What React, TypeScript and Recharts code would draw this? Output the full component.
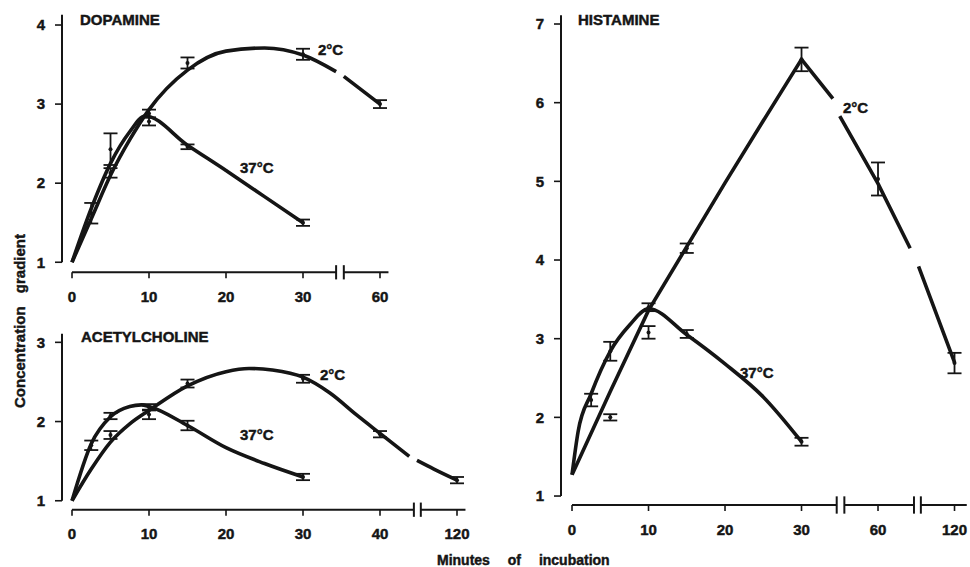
import React from 'react';
import { ComposedChart, Line, Scatter, ErrorBar, XAxis, YAxis, ReferenceLine } from 'recharts';

const INK = '#151515';
const FONT = '"Liberation Sans", Arial, Helvetica, sans-serif';

// x values are axis positions: left of the break they are minutes,
// after a break 40 / 50 stand for the compressed 60 / 120 min ticks.

// ---- Dopamine
const dopXTicks = [0, 10, 20, 30, 40];
const dopXLabels = ['0', '10', '20', '30', '60'];
const dopYTicks = [1, 2, 3, 4];

const dopColdX = [2.5, 5, 10, 15, 30, 40];
const dopColdY = [1.62, 2.13, 2.88, 3.52, 3.63, 3.0];
const dopColdErr = [0.13, 0.06, 0.05, 0.07, 0.07, 0.05];
const dopWarmX = [5, 10, 15, 30];
const dopWarmY = [2.43, 2.78, 2.46, 1.5];
const dopWarmErr = [0.2, 0.05, 0.03, 0.04];

const dopColdCurveX = [0, 2.5, 5, 7.5, 10, 15, 20, 25, 30, 34.3, 34.8, 35.3, 40];
const dopColdCurveY = [1, 1.55, 2.1, 2.55, 2.93, 3.43, 3.67, 3.71, 3.62, 3.41, null, 3.35, 3.0];
const dopWarmCurveX = [0, 2.5, 5, 7.5, 9.5, 15, 20, 25, 30];
const dopWarmCurveY = [1, 1.68, 2.25, 2.65, 2.85, 2.48, 2.16, 1.83, 1.5];

// ---- Acetylcholine
const achXTicks = [0, 10, 20, 30, 40, 50];
const achXLabels = ['0', '10', '20', '30', '40', '120'];
const achYTicks = [1, 2, 3];

const achColdX = [5, 10, 15, 30, 40, 50];
const achColdY = [1.83, 2.09, 2.48, 2.54, 1.84, 1.26];
const achColdErr = [0.05, 0.06, 0.05, 0.05, 0.04, 0.04];
const achWarmX = [2.5, 5, 10, 15, 30];
const achWarmY = [1.7, 2.07, 2.18, 1.95, 1.3];
const achWarmErr = [0.06, 0.04, 0.04, 0.06, 0.04];

const achColdCurveX = [0, 2.5, 5, 7.5, 10, 15, 20, 23, 26, 30, 33.5, 37, 40, 43.8, 44.3, 44.8, 47, 50];
const achColdCurveY = [1, 1.4, 1.74, 1.97, 2.14, 2.45, 2.63, 2.67, 2.65, 2.56, 2.36, 2.08, 1.85, 1.56, null, 1.51, 1.4, 1.26];
const achWarmCurveX = [0, 2.5, 5, 7.5, 9, 10, 15, 20, 25, 30];
const achWarmCurveY = [1, 1.72, 2.06, 2.19, 2.21, 2.19, 1.95, 1.67, 1.47, 1.3];

// ---- Histamine
const hisXTicks = [0, 10, 20, 30, 40, 50];
const hisXLabels = ['0', '10', '20', '30', '60', '120'];
const hisYTicks = [1, 2, 3, 4, 5, 6, 7];

const hisColdX = [5, 10, 15, 30, 40, 50];
const hisColdY = [2.0, 3.08, 4.15, 6.55, 5.03, 2.69];
const hisColdErr = [0.04, 0.08, 0.06, 0.15, 0.21, 0.13];
const hisWarmX = [2.5, 5, 10, 15, 30];
const hisWarmY = [2.22, 2.84, 3.4, 3.06, 1.69];
const hisWarmErr = [0.08, 0.12, 0.05, 0.05, 0.05];

const hisColdCurveX = [0, 5, 10, 15, 20, 25, 30, 34.1, 34.5, 35, 40, 44.2, 44.7, 45.3, 50];
const hisColdCurveY = [1.27, 2.33, 3.36, 4.17, 4.98, 5.77, 6.55, 6.05, null, 5.83, 4.97, 4.15, null, 3.92, 2.7];
const hisWarmCurveX = [0, 0.8, 2.5, 5, 7.5, 10, 15, 20, 25, 30];
const hisWarmCurveY = [1.27, 1.82, 2.3, 2.84, 3.17, 3.38, 3.05, 2.68, 2.26, 1.69];

type Pt = { x: number; y: number | null; err?: number };

const zip = (xs: number[], ys: (number | null)[], errs?: number[]): Pt[] =>
  xs.map((x, i) => ({ x, y: ys[i], err: errs ? errs[i] : undefined }));

// heavy, slightly stroked type to match the scanned Helvetica bold
const tickStyle = { fill: INK, stroke: INK, strokeWidth: 0.45, fontSize: 15, fontWeight: 700, fontFamily: FONT };

const Dot = (p: any) => <circle cx={p.cx} cy={p.cy} r={2} fill={INK} />;

type PanelProps = {
  left: number;
  top: number;
  width: number;
  height: number;
  margin: { top: number; right: number; bottom: number; left: number };
  yAxisWidth: number;
  xDomain: [number, number];
  yDomain: [number, number];
  xTicks: number[];
  xLabels: string[];
  yTicks: number[];
  yAxisTop: number;
  axisRuns: [number, number][];
  breakMarks: number[];
  markHalf: number;
  curves: { data: Pt[]; type: 'monotone' | 'linear' }[];
  points: Pt[][];
};

function Panel(p: PanelProps) {
  const base = p.yDomain[0];
  return (
    <div style={{ position: 'absolute', left: p.left, top: p.top }}>
      <ComposedChart width={p.width} height={p.height} margin={p.margin}>
        <XAxis
          type="number"
          dataKey="x"
          domain={p.xDomain}
          ticks={p.xTicks}
          interval={0}
          allowDataOverflow
          tickFormatter={(v: number) => p.xLabels[p.xTicks.indexOf(v)] ?? ''}
          axisLine={false}
          tickSize={6}
          tickMargin={13}
          height={40}
          tickLine={{ stroke: INK, strokeWidth: 1.6 }}
          tick={tickStyle}
        />
        <YAxis
          type="number"
          dataKey="y"
          domain={p.yDomain}
          ticks={p.yTicks}
          interval={0}
          allowDataOverflow
          axisLine={false}
          tickSize={7}
          tickMargin={10}
          width={p.yAxisWidth}
          tickLine={{ stroke: INK, strokeWidth: 1.6 }}
          tick={tickStyle}
        />
        <ReferenceLine
          segment={[{ x: p.xDomain[0], y: 1 }, { x: p.xDomain[0], y: p.yAxisTop }]}
          stroke={INK}
          strokeWidth={2}
          ifOverflow="visible"
        />
        {p.axisRuns.map(([a, b], i) => (
          <ReferenceLine
            key={'run' + i}
            segment={[{ x: a, y: base }, { x: b, y: base }]}
            stroke={INK}
            strokeWidth={2}
            ifOverflow="visible"
          />
        ))}
        {p.breakMarks.map((b, i) => (
          <ReferenceLine
            key={'brk' + i}
            segment={[{ x: b, y: base - p.markHalf }, { x: b, y: base + p.markHalf }]}
            stroke={INK}
            strokeWidth={2}
            ifOverflow="visible"
          />
        ))}
        {p.curves.map((c, i) => (
          <Line
            key={'c' + i}
            data={c.data}
            dataKey="y"
            type={c.type}
            stroke={INK}
            strokeWidth={3.6}
            dot={false}
            activeDot={false}
            connectNulls={false}
            isAnimationActive={false}
          />
        ))}
        {p.points.map((d, i) => (
          <Scatter key={'s' + i} data={d} dataKey="y" shape={Dot} isAnimationActive={false}>
            <ErrorBar dataKey="err" direction="y" width={7} stroke={INK} strokeWidth={1.8} />
          </Scatter>
        ))}
      </ComposedChart>
    </div>
  );
}

const labelStyle = { fill: INK, stroke: INK, strokeWidth: 0.45, fontFamily: FONT, fontWeight: 700 } as const;

export default function App() {
  return (
    <div
      style={{
        position: 'absolute',
        left: 0,
        top: 0,
        width: 970,
        height: 567,
        background: '#fff',
        overflow: 'hidden',
        fontFamily: FONT,
      }}
    >
      <Panel
        left={0}
        top={0}
        width={400}
        height={312.3}
        margin={{ top: 9.2, right: 4.6, bottom: 0, left: 0 }}
        yAxisWidth={62}
        xDomain={[-1.3, 42]}
        yDomain={[0.873, 4.2]}
        xTicks={dopXTicks}
        xLabels={dopXLabels}
        yTicks={dopYTicks}
        yAxisTop={4.13}
        axisRuns={[[0, 34.3], [35.3, 41.1]]}
        breakMarks={[34.3, 35.3]}
        markHalf={0.09}
        curves={[
          { data: zip(dopColdCurveX, dopColdCurveY), type: 'monotone' },
          { data: zip(dopWarmCurveX, dopWarmCurveY), type: 'monotone' },
        ]}
        points={[zip(dopColdX, dopColdY, dopColdErr), zip(dopWarmX, dopWarmY, dopWarmErr)]}
      />
      <Panel
        left={0}
        top={300}
        width={480}
        height={250}
        margin={{ top: 26.5, right: 7.6, bottom: 0.3, left: 0 }}
        yAxisWidth={62}
        xDomain={[-1.3, 52]}
        yDomain={[0.887, 3.2]}
        xTicks={achXTicks}
        xLabels={achXLabels}
        yTicks={achYTicks}
        yAxisTop={3.11}
        axisRuns={[[0, 44.4], [45.3, 51.1]]}
        breakMarks={[44.4, 45.3]}
        markHalf={0.09}
        curves={[
          { data: zip(achColdCurveX, achColdCurveY), type: 'monotone' },
          { data: zip(achWarmCurveX, achWarmCurveY), type: 'monotone' },
        ]}
        points={[zip(achColdX, achColdY, achColdErr), zip(achWarmX, achWarmY, achWarmErr)]}
      />
      <Panel
        left={480}
        top={0}
        width={490}
        height={545}
        margin={{ top: 8.27, right: 0.95, bottom: 0, left: 0 }}
        yAxisWidth={81}
        xDomain={[-1.44, 51.9]}
        yDomain={[0.886, 7.2]}
        xTicks={hisXTicks}
        xLabels={hisXLabels}
        yTicks={hisYTicks}
        yAxisTop={7.11}
        axisRuns={[[0, 34.6], [35.6, 44.7], [45.6, 51.6]]}
        breakMarks={[34.6, 35.6, 44.7, 45.6]}
        markHalf={0.11}
        curves={[
          { data: zip(hisColdCurveX, hisColdCurveY), type: 'linear' },
          { data: zip(hisWarmCurveX, hisWarmCurveY), type: 'monotone' },
        ]}
        points={[zip(hisColdX, hisColdY, hisColdErr), zip(hisWarmX, hisWarmY, hisWarmErr)]}
      />
      <svg
        width={970}
        height={567}
        style={{ position: 'absolute', left: 0, top: 0, pointerEvents: 'none' }}
      >
        <text x={80} y={25} fontSize={15} {...labelStyle}>DOPAMINE</text>
        <text x={81} y={342} fontSize={15} {...labelStyle}>ACETYLCHOLINE</text>
        <text x={578} y={25} fontSize={15} {...labelStyle}>HISTAMINE</text>

        <text x={318} y={55} fontSize={15} {...labelStyle}>2°C</text>
        <text x={240} y={173} fontSize={15} {...labelStyle}>37°C</text>
        <text x={320} y={380} fontSize={15} {...labelStyle}>2°C</text>
        <text x={240} y={440} fontSize={15} {...labelStyle}>37°C</text>
        <text x={843} y={113} fontSize={15} {...labelStyle}>2°C</text>
        <text x={740} y={378} fontSize={15} {...labelStyle}>37°C</text>

        <text
          x={25}
          y={321}
          fontSize={15}
          textAnchor="middle"
          wordSpacing={9}
          transform="rotate(-90 25 321)"
          {...labelStyle}
        >
          Concentration gradient
        </text>
        <text x={437} y={565} fontSize={14} wordSpacing={14} {...labelStyle}>
          Minutes of incubation
        </text>
      </svg>
    </div>
  );
}
